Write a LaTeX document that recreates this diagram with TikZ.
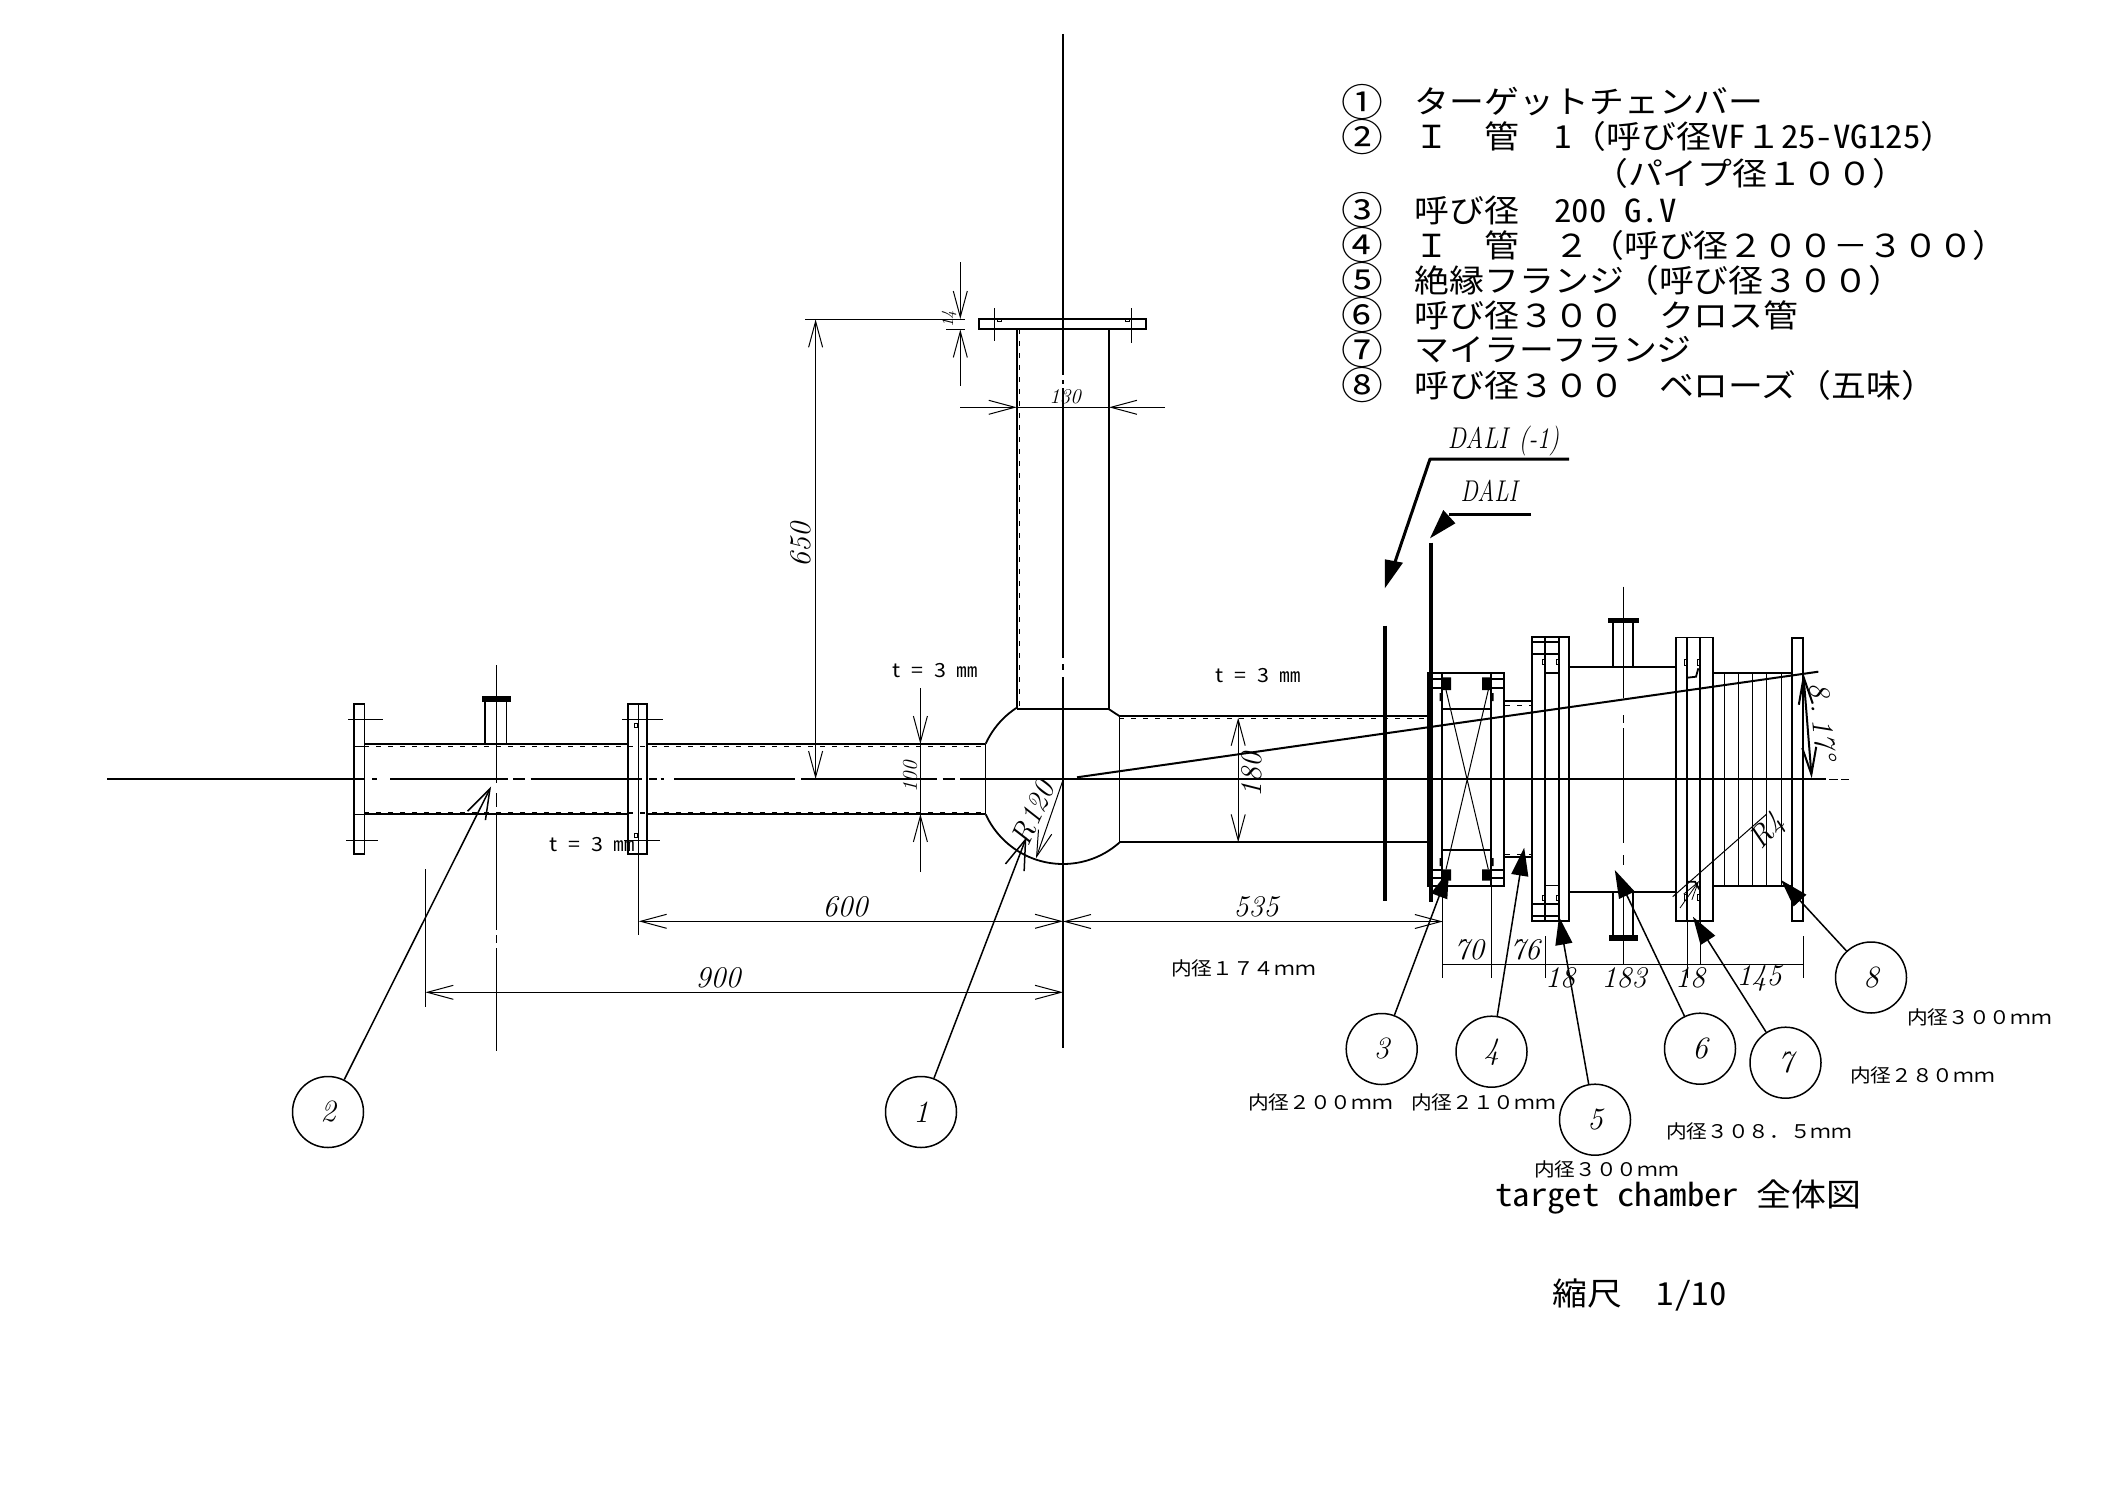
\documentclass[tikz,border=0pt]{standalone}
\usepackage{fontspec}
\usetikzlibrary{arrows.meta}
\newfontfamily\jp[FakeStretch=1.1]{Noto Sans CJK JP}
\newfontfamily\jph[FakeStretch=1.1,RawFeature={+hwid}]{Noto Sans CJK JP}
\newcommand\jpbig{\jp\fontsize{31.7}{32}\selectfont}
\newcommand\jpsmall{\jp\fontsize{18.8}{19}\selectfont}
\newcommand\jptee{\jp\fontsize{19.5}{20}\selectfont}
\newcommand\hcbig{\hspace{17.45pt}}
\newcommand\hctee{\hspace{10.7pt}}
\newcommand\cnum[1]{\makebox[34.9pt]{\smash{\raisebox{-2.5pt}{\scalebox{1.2}{#1}}}}}
\tikzset{
  thinl/.style={line width=1pt},
  outl/.style={line width=1.8pt},
  thick3/.style={line width=4pt},
  dash3/.style={line width=1pt,dash pattern=on 5pt off 7pt},
  dimarr/.style={line width=1pt,{Straight Barb[length=26pt,width=14pt]}-{Straight Barb[length=26pt,width=14pt]}},
  onearr/.style={line width=1pt,-{Straight Barb[length=26pt,width=14pt]}},
  openlead/.style={line width=1.5pt,-{Straight Barb[length=30pt,width=20pt]}},
  solidlead/.style={line width=1.5pt,-{Triangle[length=28pt,width=17pt]}},
  bubble/.style={circle,draw,line width=1.5pt,minimum size=71pt,inner sep=0pt,font=\fontsize{31}{31}\selectfont\itshape},
  dimtxt/.style={inner sep=0pt,font=\fontsize{30}{30}\selectfont\itshape},
  dimsmall/.style={inner sep=0pt,font=\fontsize{21}{21}\selectfont\itshape},
  listtxt/.style={anchor=west,inner sep=0pt,font=\jpbig},
  smalltxt/.style={anchor=west,inner sep=0pt,font=\jpsmall},
  teetxt/.style={anchor=west,inner sep=0pt,font=\jptee},
}
\begin{document}
\begin{tikzpicture}[x=1pt,y=-1pt]
\fill[white] (0,0) rectangle (2104,1488);
\useasboundingbox (0,0) rectangle (2104,1488);

% ---- centre lines
\draw[line width=1.2pt] (107,779)--(365,779) (372,779)--(377,779) (390,779)--(507.5,779) (513,779)--(525,779) (530.5,779)--(641.5,779) (649,779)--(657,779) (660.6,779)--(664,779) (674,779)--(794.6,779) (801.4,779)--(937,779) (942.5,779)--(955,779) (960,779)--(1077,779);
\draw[line width=2pt] (1077,779)--(1825.5,779);
\draw[line width=1pt] (1829,779)--(1837.6,779) (1841,779)--(1849,779);
\draw[line width=1.2pt] (1063,34)--(1063,375) (1063,380)--(1063,384) (1063,388)--(1063,658) (1063,664)--(1063,670) (1063,677)--(1063,1048);
\draw[line width=1.2pt] (496.4,665)--(496.4,783) (496.4,793)--(496.4,807) (496.4,813)--(496.4,930) (496.4,935)--(496.4,942.7) (496.4,948)--(496.4,1051);
\draw[line width=1.2pt] (1623.7,586.7)--(1623.7,698) (1623.7,715)--(1623.7,723) (1623.7,728)--(1623.7,843) (1623.7,855)--(1623.7,865) (1623.7,891)--(1623.7,964);

% ---- left pipe and flanges
\draw[outl] (353.7,704) rectangle (364.4,854);
\draw[outl] (627.7,704) rectangle (647,854);
\draw[line width=1.2pt] (638.4,704)--(638.4,935);
\draw[outl] (364.4,744)--(627.7,744) (647,744)--(985.4,744);
\draw[outl] (364.4,814)--(627.7,814) (647,814)--(985.4,814);
\draw[dash3] (364.4,746.3)--(985.4,746.3);
\draw[dash3,line width=1.6pt] (364.4,812.8)--(985.4,812.8);
\draw[thinl] (353.7,746)--(364.4,746) (353.7,814)--(364.4,814);
\draw[thinl] (348,719)--(383,719) (346,840)--(378,840) (622,719)--(662.5,719) (624,840)--(660,840);
\draw[thinl] (634.5,723) rectangle (637.5,727) (634.5,833) rectangle (637.5,837);
% left stub
\draw[outl] (485.3,701)--(485.3,744) (506.4,701)--(506.4,744);
\draw[fill=black,line width=.5pt] (482.6,696.7) rectangle (510.6,701.5);

% ---- chamber
\draw[outl] plot[smooth,domain=48.3:155.5,samples=30] ({1063+85*cos(\x)},{779+85*sin(\x)});
\draw[outl] plot[smooth,domain=204.5:236.6,samples=12] ({1063+85*cos(\x)},{779+85*sin(\x)});
\draw[line width=1.2pt] (985.4,743.7)--(985.4,814.3);
\draw[line width=1.2pt] (1016.8,709)--(1108.6,709);
\draw[outl] (1108.6,709)--(1119.3,716)--(1428,716);
\draw[line width=1.2pt] (1119.3,716)--(1119.3,842.3);
\draw[outl] (1119.3,842.3)--(1428,842.3);
\draw[dash3] (1119.3,718.5)--(1428,718.5);
\draw[dash3,line width=1.6pt] (1119.3,841.5)--(1428,841.5);

% ---- vertical tube
\draw[outl] (1017,329)--(1017,709) (1108.7,329)--(1108.7,709);
\draw[dash3] (1019.4,329)--(1019.4,709);
\draw[dash3,line width=1.6pt] (1109.4,329)--(1109.4,709);
\draw[outl] (978.7,319) rectangle (1146,329);
\draw[thinl] (994.3,308.3)--(994.3,340.7) (1131.3,308.3)--(1131.3,342.7);
\draw[thinl] (997,319.5) rectangle (1001,321.5) (1125,319.5) rectangle (1129,321.5);

% ---- dimensions, left and centre
\draw[thinl] (425.4,869)--(425.4,1006.7);
\draw[dimarr] (425.4,992.3)--(1063,992.3);
\node[dimtxt] (d900) at (718,978) {900};
\draw[dimarr] (638.7,921.3)--(1063,921.3);
\node[dimtxt] (d600) at (845,907) {600};
\draw[dimarr] (1063,921.5)--(1442.8,921.5);
\node[dimtxt] (d535) at (1256,907) {535};
\draw[thinl] (805,319.4)--(965,319.4) (946,329.3)--(965,329.3);
\draw[onearr] (815.6,460)--(815.6,319.4);
\draw[onearr] (815.6,460)--(815.6,779);
\node[dimtxt,rotate=90] (d650) at (801,545) {650};
\draw[thinl] (960.3,262)--(960.3,293) (960.3,355)--(960.3,385.7);
\draw[onearr] (960.3,262)--(960.3,319);
\draw[onearr] (960.3,385.7)--(960.3,329.5);
\node[inner sep=0pt,rotate=90,font=\fontsize{17}{17}\selectfont\itshape] (d14) at (949,319) {14};
\draw[onearr] (960,407.3)--(1016.7,407.3);
\draw[onearr] (1165,407.3)--(1109,407.3);
\draw[thinl] (1016.7,407.3)--(1109,407.3);
\node[dimsmall] (d130) at (1065,397) {130};
\draw[thinl] (920.4,688)--(920.4,872);
\draw[onearr] (920.4,688)--(920.4,744);
\draw[onearr] (920.4,872)--(920.4,814);
\node[dimsmall,rotate=90] (d100) at (910,777) {100};
\draw[dimarr] (1238.2,717.7)--(1238.2,842.3);
\node[dimtxt,rotate=90] (d180) at (1251.4,775) {180};

% R120
\coordinate (r120a) at (1063,780);
\coordinate (r120b) at (1036,858.3);
\draw[onearr] (r120a)--(r120b);
\node[dimtxt,rotate=66] (dr120) at (1033,813) {R120};

% ---- thin text
\node[teetxt] (t1) at (892.5,670.7) {t\hctee=\hctee 3\hctee ㎜};
\node[teetxt] (t2) at (1215.7,675.7) {t\hctee=\hctee 3\hctee ㎜};
\node[teetxt] (t3) at (549.6,845) {t\hctee=\hctee 3\hctee ㎜};

% ---- angle line and section lines
\draw[line width=2pt] (1077,777.3)--(1818.3,671.7);
\draw[thick3] (1384.8,625.7)--(1384.8,901);
\draw[thick3] (1431,542.7)--(1431,901.7);
\draw[line width=3pt,line join=round] (1569,459)--(1430,459)--(1395,562);
\fill (1384.8,588.3)--(1403,562.7)--(1384.8,559.3)--cycle;
\draw[line width=3pt] (1531,514)--(1449,514);
\fill (1430,538.3)--(1443.3,510)--(1455.4,523.3)--cycle;
\node[dimtxt] (ldali1) at (1503.6,441) {\scalebox{.82}[1]{DALI\hspace{.45em}(-1)}};
\node[dimtxt] (ldali) at (1489,491) {\scalebox{.78}[1]{DALI}};

% ---- gate valve (3)
\draw[outl] (1428.3,672.7) rectangle (1504,886);
\draw[outl] (1442,672.7)--(1442,886) (1491.3,672.7)--(1491.3,886);
\draw[outl] (1442,708.7)--(1491.3,708.7) (1442,850)--(1491.3,850);
\draw[outl] (1428.3,679.3)--(1442,679.3) (1428.3,688)--(1442,688) (1491.3,679.3)--(1504,679.3) (1491.3,688)--(1504,688);
\draw[outl] (1428.3,870)--(1442,870) (1428.3,878.3)--(1442,878.3) (1491.3,870)--(1504,870) (1491.3,878.3)--(1504,878.3);
\fill (1442,677.3) rectangle (1451,690) (1482,677.3) rectangle (1491.3,690) (1442,869.3) rectangle (1451,880.7) (1482,869.3) rectangle (1491.3,880.7);
\fill (1439.5,693) rectangle (1442,701) (1491.3,693) rectangle (1493.5,701) (1439.5,858) rectangle (1442,866) (1491.3,858) rectangle (1493.5,866);
\draw[thinl] (1446,690)--(1488.3,869.3) (1488.3,690)--(1446,869.3);
% stub 4
\draw[outl] (1504,700.7)--(1531.7,700.7) (1504,856.7)--(1531.7,856.7);
\draw[dash3] (1505,705)--(1533,705) (1505,854.5)--(1533,854.5);

% ---- flange 5
\draw[outl] (1531.8,637.3) rectangle (1569,921.3);
\draw[outl] (1544.9,637.3)--(1544.9,921.3) (1558.7,637.3)--(1558.7,921.3);
\draw[outl] (1531.8,641.7)--(1558.7,641.7) (1531.8,654)--(1558.7,654) (1544.9,672.7)--(1558.7,672.7);
\draw[outl] (1531.8,916.3)--(1558.7,916.3) (1531.8,904.3)--(1558.7,904.3) (1544.9,885.5)--(1558.7,885.5);
\draw[thinl] (1542,659) rectangle (1544.5,664) (1556,659) rectangle (1558.5,664) (1542,895) rectangle (1544.5,900) (1556,895) rectangle (1558.5,900);

% ---- cross pipe 6
\draw[outl] (1569,667)--(1675.7,667) (1569,891.7)--(1675.7,891.7);
\draw[outl] (1613,623)--(1613,667) (1632.7,623)--(1632.7,667);
\draw[fill=black,line width=.5pt] (1608.6,618.3) rectangle (1637.9,622.7);
\draw[outl] (1613,891.7)--(1613,935) (1633,891.7)--(1633,935);
\draw[fill=black,line width=.5pt] (1609,935) rectangle (1637,940.3);

% ---- flange 7
\draw[outl] (1675.7,637.5) rectangle (1712.7,921);
\draw[outl] (1687.3,637.5)--(1687.3,921) (1700,637.5)--(1700,921);
\draw[thinl] (1684,659) rectangle (1686.5,665) (1697.5,659) rectangle (1699.5,665) (1684,894) rectangle (1686.5,900) (1697.5,894) rectangle (1699.5,900);
\draw[outl] (1698.3,668.3)--(1696,676.7)--(1687.3,677.7) (1687.3,881.7)--(1695,881.7)--(1699.3,889.3);

% ---- bellows 8
\draw[outl] (1712.7,672.7)--(1791.7,672.7) (1712.7,885.7)--(1791.7,885.7);
\draw[thinl] (1724.3,672.7)--(1724.3,885.7) (1738.3,672.7)--(1738.3,885.7) (1752.3,672.7)--(1752.3,885.7) (1766.3,672.7)--(1766.3,885.7);
\draw[line width=1.2pt] (1781.3,672.7)--(1781.3,885.7);
\draw[outl] (1791.7,637.7) rectangle (1803.3,921);

% R4
\draw[thinl] (1766.7,814)--(1672.7,896.7);
\draw[line width=.8pt,-{Straight Barb[length=18pt,width=10pt]}] (1680,908)--(1699,881);
\node[dimtxt,rotate=48] (dr4) at (1768,831.7) {R4};

% 8.17 deg
\draw[line width=2pt,{Straight Barb[length=27pt,width=14pt]}-{Straight Barb[length=27pt,width=14pt]}] (1803.3,673.3)--(1811.7,778.3);
\node[dimtxt,rotate=-85] (dang) at (1823,721) {8\hspace{.2em}.\hspace{.2em}17°};

% ---- bottom chain dimension
\draw[thinl] (1442.8,886)--(1442.8,978) (1491,886)--(1491,978) (1545.5,936)--(1545.5,978) (1687.6,921)--(1687.6,978) (1700.6,921)--(1700.6,964) (1803,936)--(1803,978);
\draw[thinl] (1442.8,964.3)--(1803,964.3);
\node[dimtxt] (d70) at (1469,950) {70};
\node[dimtxt] (d76) at (1525,950) {76};
\node[dimtxt] (d18a) at (1560,978) {18};
\node[dimtxt] (d183) at (1624,978) {183};
\node[dimtxt] (d18b) at (1690,978) {18};
\node[dimtxt] (d145) at (1759,978) {145};

% ---- bubbles and leaders
\node[bubble] (b1) at (921,1112) {1};
\node[bubble] (b2) at (328,1112) {2};
\node[bubble] (b3) at (1381.7,1049) {3};
\node[bubble] (b4) at (1491.5,1051.7) {4};
\node[bubble] (b5) at (1595,1119.7) {5};
\node[bubble] (b6) at (1700,1048.7) {6};
\node[bubble] (b7) at (1785.5,1062.7) {7};
\node[bubble] (b8) at (1871,977.5) {8};
\coordinate (tip1) at (1026.4,837.3);
\coordinate (tip2) at (491,786.7);
\coordinate (tip3) at (1449,870);
\coordinate (tip4) at (1524.2,847.7);
\coordinate (tip5) at (1559,916.7);
\coordinate (tip6) at (1614.8,870);
\coordinate (tip7) at (1692.9,916.7);
\coordinate (tip8) at (1781,880);
\draw[openlead] (b1)--(tip1);
\draw[openlead] (b2)--(tip2);
\draw[solidlead] (b3)--(tip3);
\draw[solidlead] (b4)--(tip4);
\draw[solidlead] (b5)--(tip5);
\draw[solidlead] (b6)--(tip6);
\draw[solidlead] (b7)--(tip7);
\draw[solidlead] (b8)--(tip8);

% ---- inner diameter labels
\node[smalltxt] (id1) at (1171,968.3) {内径１７４ｍｍ};
\node[smalltxt] (id2) at (1248,1102.7) {内径２００ｍｍ};
\node[smalltxt] (id3) at (1411,1102.7) {内径２１０ｍｍ};
\node[smalltxt] (id4) at (1534,1169) {内径３００ｍｍ};
\node[smalltxt] (id5) at (1666,1131.7) {内径３０８．５ｍｍ};
\node[smalltxt] (id6) at (1850,1075) {内径２８０ｍｍ};
\node[smalltxt] (id7) at (1907,1017.3) {内径３００ｍｍ};

% ---- parts list
\node[listtxt] (l1) at (1345,101.7) {\cnum{①}　ターゲットチェンバー};
\node[listtxt] (l2) at (1345,136.7) {\cnum{②}　Ｉ　管　{\jph 1}（呼び径{\jph VF}１{\jph 25-VG125}）};
\node[listtxt] (l2b) at (1593,173) {（パイプ径１００）};
\node[listtxt] (l3) at (1345,210) {\cnum{③}　呼び径\hcbig\hcbig{\jph 200}\hcbig{\jph G.V}};
\node[listtxt] (l4) at (1345,245) {\cnum{④}　Ｉ　管　２（呼び径２００－３００）};
\node[listtxt] (l5) at (1345,280) {\cnum{⑤}　絶縁フランジ（呼び径３００）};
\node[listtxt] (l6) at (1345,315) {\cnum{⑥}　呼び径３００　クロス管};
\node[listtxt] (l7) at (1345,350) {\cnum{⑦}　マイラーフランジ};
\node[listtxt] (l8) at (1345,385) {\cnum{⑧}　呼び径３００　ベローズ（五味）};

% ---- title
\node[listtxt] (title) at (1495,1197) {{\jph target\hcbig chamber\hcbig}全体図};
\node[listtxt] (scale) at (1552,1295) {縮尺　{\jph 1/10}};
\end{tikzpicture}
\end{document}
